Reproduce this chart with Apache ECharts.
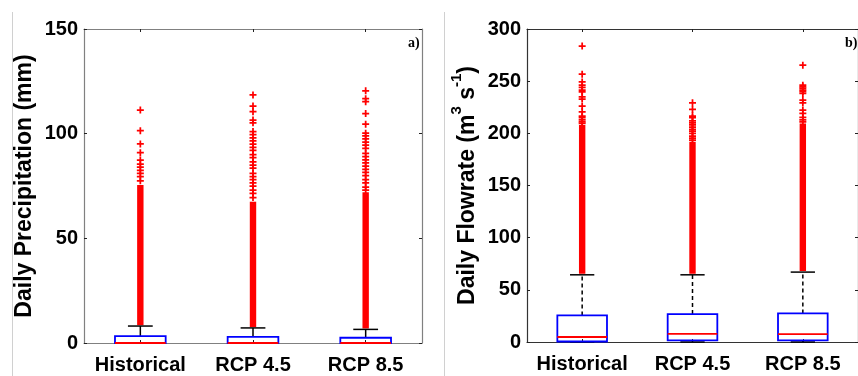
<!DOCTYPE html>
<html>
<head>
<meta charset="utf-8">
<script src="https://cdn.jsdelivr.net/npm/echarts@6/dist/echarts.min.js"></script>
<style>
html,body{margin:0;padding:0;background:#fff;}
#chart{width:858px;height:376px;}
</style>
</head>
<body>
<div id="chart"></div>
<script>
// ---- Data ----
const categories = ['Historical', 'RCP 4.5', 'RCP 8.5'];
const precipTicks = [0, 50, 100, 150];
const flowTicks = [0, 50, 100, 150, 200, 250, 300];

// Panel a) Daily Precipitation (mm)
const precipWhiskerLow = [0, 0, 0];
const precipQ1 = [0, 0, 0];
const precipMedian = [0, 0, 0];
const precipQ3 = [3.3, 2.9, 2.5];
const precipWhiskerHigh = [8.1, 7.2, 6.5];
const precipDenseLow = [8.5, 7.6, 6.9];
const precipDenseHigh = [75.5, 67.5, 72];
const precipOutHist = [77.5, 79.5, 81, 82.5, 84, 85.5, 87.4, 90.9, 95.1, 101.4, 111.3];
const precipOutR45 = [69.5, 71.5, 73, 75, 76.5, 78, 79.5, 81, 83.5, 85, 86.5, 88.5, 90, 92, 93.5, 95, 96.5, 98, 99.5, 101, 105.2, 106.5, 110.5, 113.2, 118.5];
const precipOutR85 = [73, 74.5, 76.5, 78, 80, 81.5, 83, 84.5, 86, 87.5, 89, 90.6, 93, 94.5, 96, 97.5, 99, 100.2, 104.5, 109.6, 115.3, 116.7, 120.5];

// Panel b) Daily Flowrate (m3 s-1)
const flowWhiskerLow = [0, 0, 0];
const flowQ1 = [0.5, 1.5, 1.5];
const flowMedian = [4.8, 7.7, 7.5];
const flowQ3 = [25.5, 26.8, 27.4];
const flowWhiskerHigh = [64.4, 64.4, 67];
const flowDenseLow = [65.5, 65.5, 68];
const flowDenseHigh = [208, 192, 209.5];
const flowOutHist = [209.5, 211, 213, 215, 216.5, 220.6, 226, 232.8, 235, 239.8, 241.4, 244, 246.2, 249.3, 256.7, 283.7];
const flowOutR45 = [193.5, 195.5, 197.4, 200, 202, 203.8, 206, 208, 210, 212, 215, 216.5, 222.9, 229.2];
const flowOutR85 = [211, 213, 215.3, 219.1, 222.3, 229.3, 231.8, 238.2, 240, 241.5, 243, 244.5, 246.2, 265.3];

// ---- Build ----
function boxRows(wl, q1, md, q3, wh, dl, dh) {
  return categories.map((c, i) => [i, wl[i], q1[i], md[i], q3[i], wh[i], dl[i], dh[i]]);
}
function outlierRows(lists) {
  const rows = [];
  lists.forEach((l, i) => l.forEach(v => rows.push([i, v])));
  return rows;
}
const precipBox = boxRows(precipWhiskerLow, precipQ1, precipMedian, precipQ3, precipWhiskerHigh, precipDenseLow, precipDenseHigh);
const flowBox = boxRows(flowWhiskerLow, flowQ1, flowMedian, flowQ3, flowWhiskerHigh, flowDenseLow, flowDenseHigh);
const precipOut = outlierRows([precipOutHist, precipOutR45, precipOutR85]);
const flowOut = outlierRows([flowOutHist, flowOutR45, flowOutR85]);

const PLUS = 'path://M3,0h2v3h3v2h-3v3h-2v-3h-3v-2h3z';
const FONT = 'Liberation Sans, Arial, sans-serif';

function makeRender(dashed) {
  return function (params, api) {
    const xi = api.value(0);
    const c = v => api.coord([xi, v]);
    const band = api.size([1, 0])[0];
    const bw = band * 0.45, cw = band * 0.22;
    const pL = c(api.value(1)), pQ1 = c(api.value(2)), pM = c(api.value(3)),
          pQ3 = c(api.value(4)), pH = c(api.value(5)), pDL = c(api.value(6)), pDH = c(api.value(7));
    const cx = pL[0];
    const wStyle = {stroke: '#000', lineWidth: 1.5, lineDash: dashed ? [4, 3] : null};
    return {
      type: 'group',
      children: [
        {type: 'rect', shape: {x: cx - 3.2, y: pDH[1], width: 6.4, height: pDL[1] - pDH[1]}, style: {fill: '#ff0000'}},
        {type: 'line', shape: {x1: cx, y1: pQ3[1], x2: cx, y2: pH[1]}, style: wStyle},
        {type: 'line', shape: {x1: cx, y1: pQ1[1], x2: cx, y2: pL[1]}, style: wStyle},
        {type: 'line', shape: {x1: cx - cw / 2, y1: pH[1], x2: cx + cw / 2, y2: pH[1]}, style: {stroke: '#000', lineWidth: 1.5}},
        {type: 'line', shape: {x1: cx - cw / 2, y1: pL[1], x2: cx + cw / 2, y2: pL[1]}, style: {stroke: '#000', lineWidth: 1.5}},
        {type: 'rect', shape: {x: cx - bw / 2, y: pQ3[1], width: bw, height: pQ1[1] - pQ3[1]}, style: {fill: 'none', stroke: '#0000ff', lineWidth: 1.8}},
        {type: 'line', shape: {x1: cx - bw / 2, y1: pM[1], x2: cx + bw / 2, y2: pM[1]}, style: {stroke: '#ff0000', lineWidth: 1.8}}
      ]
    };
  };
}

function xAxes(gi, lineColor, showLabel, pos) {
  return {
    gridIndex: gi, type: 'category', data: categories, position: pos,
    axisLine: {show: true, onZero: false, lineStyle: {color: lineColor, width: 1.2}},
    axisTick: {show: true, inside: true, alignWithLabel: true, interval: 0, length: 3, lineStyle: {color: '#222'}},
    axisLabel: {show: showLabel, interval: 0, hideOverlap: false, fontFamily: FONT, fontWeight: 'bold', fontSize: 20, color: '#000', margin: 12},
    splitLine: {show: false}
  };
}
function yAxes(gi, lineColor, max, pos, name, nameGap, rich) {
  const ax = {
    gridIndex: gi, type: 'value', min: 0, max: max, interval: 50, position: pos,
    axisLine: {show: true, onZero: false, lineStyle: {color: lineColor, width: 1.2}},
    axisTick: {show: true, inside: true, length: 3, lineStyle: {color: '#222'}},
    axisLabel: {show: pos === 'left', fontFamily: FONT, fontWeight: 'bold', fontSize: 20, color: '#000', margin: 6},
    splitLine: {show: false}
  };
  if (name) {
    ax.name = name;
    ax.nameLocation = 'middle';
    ax.nameGap = nameGap;
    ax.nameTextStyle = {fontFamily: FONT, fontWeight: 'bold', fontSize: 23, color: '#000'};
    if (rich) ax.nameTextStyle.rich = rich;
  }
  return ax;
}

const supRich = {
  m: {fontFamily: FONT, fontWeight: 'bold', fontSize: 23, color: '#000', verticalAlign: 'bottom'},
  s: {fontFamily: FONT, fontWeight: 'bold', fontSize: 15, color: '#000', verticalAlign: 'top', padding: [0, 0, 15, 0]}
};

const option = {
  animation: false,
  backgroundColor: '#fff',
  grid: [
    {left: 84, top: 29, width: 338, height: 314},
    {left: 527, top: 29, width: 340, height: 313}
  ],
  xAxis: [
    xAxes(0, '#808080', true, 'bottom'),
    xAxes(0, '#808080', false, 'top'),
    xAxes(1, '#333', true, 'bottom'),
    xAxes(1, '#333', false, 'top')
  ],
  yAxis: [
    yAxes(0, '#808080', 150, 'left', 'Daily Precipitation (mm)', 48),
    yAxes(0, '#808080', 150, 'right'),
    yAxes(1, '#333', 300, 'left', '{m|Daily Flowrate (m}{s|3}{m| s}{s|-1}{m|)}', 48, supRich),
    yAxes(1, '#333', 300, 'right')
  ],
  graphic: [
    {type: 'line', shape: {x1: 12.5, y1: 12, x2: 12.5, y2: 376}, style: {stroke: '#d0d0d0', lineWidth: 1}},
    {type: 'line', shape: {x1: 444.5, y1: 12, x2: 444.5, y2: 376}, style: {stroke: '#d0d0d0', lineWidth: 1}},
    {type: 'text', left: 408, top: 36, style: {text: 'a)', font: 'bold 14px "Liberation Serif", serif', fill: '#000'}},
    {type: 'text', left: 845, top: 36, style: {text: 'b)', font: 'bold 14px "Liberation Serif", serif', fill: '#000'}}
  ],
  series: [
    {type: 'custom', xAxisIndex: 0, yAxisIndex: 0, data: precipBox, renderItem: makeRender(false), clip: false, z: 2},
    {type: 'scatter', xAxisIndex: 0, yAxisIndex: 0, data: precipOut, symbol: PLUS, symbolSize: 7, itemStyle: {color: '#ff0000', opacity: 1}, z: 3},
    {type: 'custom', xAxisIndex: 2, yAxisIndex: 2, data: flowBox, renderItem: makeRender(true), clip: false, z: 2},
    {type: 'scatter', xAxisIndex: 2, yAxisIndex: 2, data: flowOut, symbol: PLUS, symbolSize: 7, itemStyle: {color: '#ff0000', opacity: 1}, z: 3}
  ]
};

const chart = echarts.init(document.getElementById('chart'), null, {renderer: 'canvas'});
chart.setOption(option);
</script>
</body>
</html>
